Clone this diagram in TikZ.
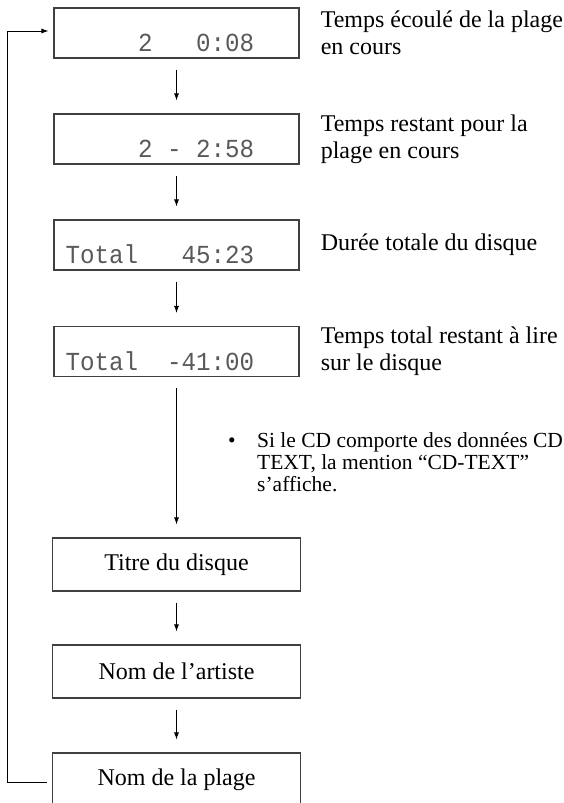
\documentclass[tikz,border=0pt]{standalone}
\usepackage{fontspec}
\setmainfont{Liberation Serif}
\newfontfamily\lcdfont{Liberation Mono}[FakeStretch=0.93]
\newcommand{\lcdblank}{\hphantom{0}}
\usetikzlibrary{arrows.meta, positioning}

\begin{document}
\begin{tikzpicture}[x=1pt, y=-1pt,
    display/.style={rectangle, draw=black!75, line width=1.1pt, minimum width=245pt, minimum height=50pt, text width=222pt, inner xsep=11.5pt, inner ysep=0pt, text height=37pt, text depth=0pt, align=left, font=\lcdfont\fontsize{26}{26}\selectfont, text=black!65},
    screen/.style={rectangle, draw=black!75, line width=1.1pt, minimum width=248pt, minimum height=53pt, font=\fontsize{24}{27}\selectfont},
    info/.style={inner sep=0pt, align=left, font=\fontsize{24}{27}\selectfont},
    note/.style={inner sep=0pt, font=\fontsize{21.5}{22}\selectfont},
    arrow/.style={-{Latex[length=7pt,width=5pt]}, line width=0.8pt, shorten <=11pt, shorten >=13pt},
    back/.style={-{Latex[length=7pt,width=5pt]}, line width=0.8pt, shorten >=5pt}
]
\useasboundingbox (0,0) rectangle (563,803);

\node[display] (elapsed) at (176.5,33) {\lcdblank\lcdblank\lcdblank\lcdblank\lcdblank 2\lcdblank\lcdblank\lcdblank 0:08};
\node[display] (remain) at (176.5,139) {\lcdblank\lcdblank\lcdblank\lcdblank\lcdblank 2\lcdblank -\lcdblank 2:58};
\node[display] (total) at (176.5,245) {Total\lcdblank\lcdblank\lcdblank 45:23};
\node[display] (totrem) at (176.5,351.5) {Total\lcdblank\lcdblank -41:00};
\node[screen] (disc) at (176.5,564.5) {Titre du disque};
\node[screen] (artist) at (176.5,671.5) {Nom de l’artiste};
\node[screen] (track) at (176.5,779.5) {Nom de la plage};

\node[info, right=21pt of elapsed] (elapsedtxt) {Temps écoulé de la plage\\en cours};
\node[info, right=21pt of remain] (remaintxt) {Temps restant pour la\\plage en cours};
\node[info, right=21pt of total] (totaltxt) {Durée totale du disque};
\node[info, right=21pt of totrem] (totremtxt) {Temps total restant à lire\\sur le disque};
\node[note, anchor=base west] (cdtext) at (228,447) {\begin{tabular}[t]{@{}p{29pt}@{}l@{}}
\textbullet & Si le CD comporte des données CD\\
 & TEXT, la mention “CD-TEXT”\\
 & s’affiche.
\end{tabular}};

\draw[arrow] (elapsed) -- (remain);
\draw[arrow] (remain) -- (total);
\draw[arrow] (total) -- (totrem);
\draw[arrow] (totrem) -- (disc);
\draw[arrow] (disc) -- (artist);
\draw[arrow] (artist) -- (track);
\draw[back] ([xshift=-5pt,yshift=-2.5pt]track.west) -- ++(-40,0) |- ([yshift=2pt]elapsed.west);
\end{tikzpicture}
\end{document}
